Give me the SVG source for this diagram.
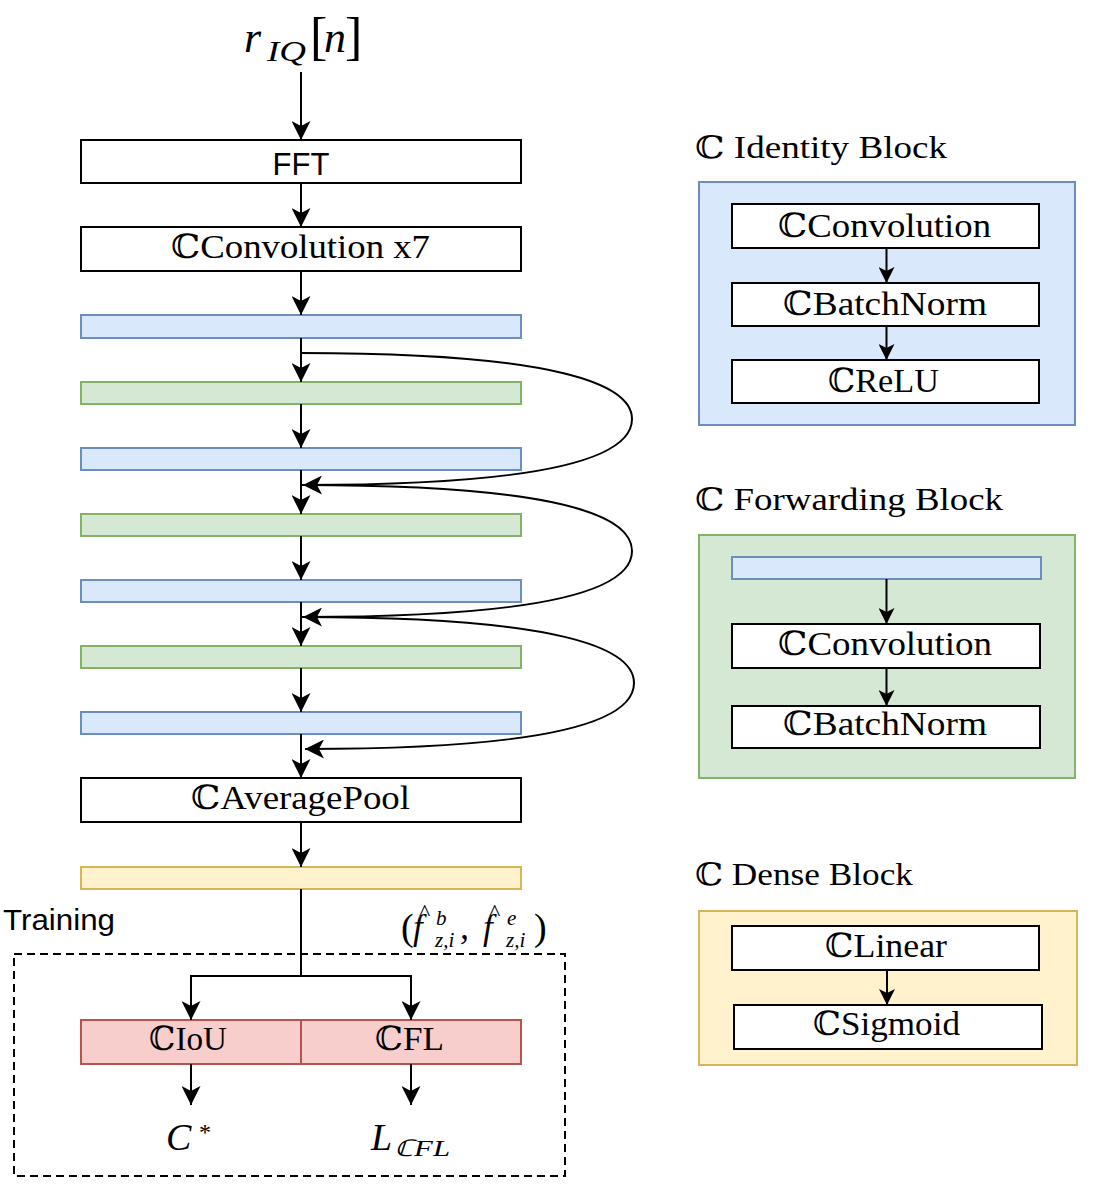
<svg xmlns="http://www.w3.org/2000/svg" width="1093" height="1185" viewBox="0 0 1093 1185">
<defs>
<style>
.box{fill:#ffffff;stroke:#000000;stroke-width:2}
.blue{fill:#dae8fc;stroke:#6c8ebf;stroke-width:2}
.green{fill:#d5e8d4;stroke:#82b366;stroke-width:2}
.yellow{fill:#fff2cc;stroke:#d6b656;stroke-width:2}
.red{fill:#f8cecc;stroke:#b85450;stroke-width:2}
.edge{fill:none;stroke:#000000;stroke-width:2}
.serif{font-family:"Liberation Serif","DejaVu Serif",serif;fill:#000000}
.it{font-style:italic}
.up{font-style:normal}
.sans{font-family:"Liberation Sans","DejaVu Sans",sans-serif;fill:#000000}
.lbl{font-size:33px}
.title{font-size:31px}
</style>
<marker id="arr" markerUnits="userSpaceOnUse" markerWidth="19" markerHeight="19" viewBox="0 0 19 19" refX="19" refY="9.5" orient="auto">
<path d="M0,0 L19,9.5 L0,19 L5,9.5 Z" fill="#000000"/>
</marker>
<marker id="arrs" markerUnits="userSpaceOnUse" markerWidth="16" markerHeight="16" viewBox="0 0 16 16" refX="16" refY="8" orient="auto">
<path d="M0,0 L16,8 L0,16 L4,8 Z" fill="#000000"/>
</marker>
</defs>
<rect width="1093" height="1185" fill="#ffffff"/>

<g id="input-label">
<text class="serif"><tspan class="it" x="244" y="52" font-size="44">r</tspan><tspan class="it" x="267" y="61" font-size="30" textLength="39" lengthAdjust="spacingAndGlyphs">IQ</tspan><tspan class="up" x="310" y="54" font-size="52">[</tspan><tspan class="it" x="324" y="52" font-size="44">n</tspan><tspan class="up" x="345" y="54" font-size="52">]</tspan></text>
</g>

<g id="fft"><rect class="box" x="81" y="140" width="440" height="43"/><text class="sans" x="301" y="175" font-size="31" text-anchor="middle">FFT</text></g>
<g id="conv7"><rect class="box" x="81" y="227" width="440" height="44"/><text class="serif lbl" x="171" y="258" textLength="259" lengthAdjust="spacingAndGlyphs">ℂConvolution x7</text></g>
<g id="id1"><rect class="blue" x="81" y="315" width="440" height="23"/></g>
<g id="fw1"><rect class="green" x="81" y="382" width="440" height="22"/></g>
<g id="id2"><rect class="blue" x="81" y="448" width="440" height="22"/></g>
<g id="fw2"><rect class="green" x="81" y="514" width="440" height="22"/></g>
<g id="id3"><rect class="blue" x="81" y="580" width="440" height="22"/></g>
<g id="fw3"><rect class="green" x="81" y="646" width="440" height="22"/></g>
<g id="id4"><rect class="blue" x="81" y="712" width="440" height="22"/></g>
<g id="avgpool"><rect class="box" x="81" y="778" width="440" height="44"/><text class="serif lbl" x="191" y="809" textLength="219" lengthAdjust="spacingAndGlyphs">ℂAveragePool</text></g>
<g id="dense"><rect class="yellow" x="81" y="867" width="440" height="22"/></g>

<g id="training">
<rect x="14" y="954" width="551" height="222" fill="none" stroke="#000000" stroke-width="2" stroke-dasharray="8,5"/>
<text class="sans" x="3" y="930" font-size="29" textLength="112" lengthAdjust="spacingAndGlyphs">Training</text>
</g>
<g id="ciou"><rect class="red" x="81" y="1020" width="220" height="44"/><text class="serif lbl" x="149" y="1050" textLength="78" lengthAdjust="spacingAndGlyphs">ℂIoU</text></g>
<g id="cfl"><rect class="red" x="301" y="1020" width="220" height="44"/><text class="serif lbl" x="375" y="1050" textLength="69" lengthAdjust="spacingAndGlyphs">ℂFL</text></g>

<g id="f-label">
<text class="serif"><tspan class="up" x="401" y="940" font-size="38">(</tspan><tspan class="it" x="413" y="939" font-size="35">f</tspan><tspan class="up" x="419" y="920" font-size="24">^</tspan><tspan class="it" x="436" y="925" font-size="21">b</tspan><tspan class="it" x="435" y="947" font-size="21">z,i</tspan><tspan class="it" x="460" y="939" font-size="36">,</tspan><tspan class="it" x="483" y="939" font-size="35">f</tspan><tspan class="up" x="489" y="920" font-size="24">^</tspan><tspan class="it" x="507" y="925" font-size="21">e</tspan><tspan class="it" x="506" y="947" font-size="21">z,i</tspan><tspan class="up" x="534" y="940" font-size="38">)</tspan></text>
</g>
<g id="cstar">
<text class="serif"><tspan class="it" x="166" y="1150" font-size="38">C</tspan><tspan class="up" x="199" y="1140" font-size="24">*</tspan></text>
</g>
<g id="lcfl">
<text class="serif"><tspan class="it" x="371" y="1150" font-size="38">L</tspan><tspan class="it" x="394" y="1156" font-size="23" textLength="56" lengthAdjust="spacingAndGlyphs">ℂFL</tspan></text>
</g>

<g id="identity-block">
<text class="serif title" x="695" y="158" textLength="252" lengthAdjust="spacingAndGlyphs">ℂ Identity Block</text>
<rect class="blue" x="699" y="182" width="376" height="243"/>
<rect class="box" x="732" y="204" width="307" height="44"/>
<text class="serif lbl" x="778" y="237" textLength="213" lengthAdjust="spacingAndGlyphs">ℂConvolution</text>
<rect class="box" x="732" y="283" width="307" height="43"/>
<text class="serif lbl" x="783" y="315" textLength="204" lengthAdjust="spacingAndGlyphs">ℂBatchNorm</text>
<rect class="box" x="732" y="360" width="307" height="43"/>
<text class="serif lbl" x="828" y="392" textLength="111" lengthAdjust="spacingAndGlyphs">ℂReLU</text>
</g>

<g id="forwarding-block">
<text class="serif title" x="695" y="510" textLength="308" lengthAdjust="spacingAndGlyphs">ℂ Forwarding Block</text>
<rect class="green" x="699" y="535" width="376" height="243"/>
<rect class="blue" x="732" y="557" width="309" height="22"/>
<rect class="box" x="732" y="624" width="308" height="44"/>
<text class="serif lbl" x="778" y="655" textLength="214" lengthAdjust="spacingAndGlyphs">ℂConvolution</text>
<rect class="box" x="732" y="706" width="308" height="42"/>
<text class="serif lbl" x="783" y="735" textLength="204" lengthAdjust="spacingAndGlyphs">ℂBatchNorm</text>
</g>

<g id="dense-block">
<text class="serif title" x="695" y="885" textLength="218" lengthAdjust="spacingAndGlyphs">ℂ Dense Block</text>
<rect class="yellow" x="699" y="911" width="378" height="154"/>
<rect class="box" x="732" y="926" width="307" height="44"/>
<text class="serif lbl" x="825" y="957" textLength="122" lengthAdjust="spacingAndGlyphs">ℂLinear</text>
<rect class="box" x="734" y="1005" width="308" height="44"/>
<text class="serif lbl" x="813" y="1035" textLength="147" lengthAdjust="spacingAndGlyphs">ℂSigmoid</text>
</g>

<g id="connectors">
<path class="edge" marker-end="url(#arr)" d="M301,72 L301,140"/>
<path class="edge" marker-end="url(#arr)" d="M301,183 L301,227"/>
<path class="edge" marker-end="url(#arr)" d="M301,271 L301,315"/>
<path class="edge" marker-end="url(#arr)" d="M301,338 L301,382"/>
<path class="edge" marker-end="url(#arr)" d="M301,404 L301,448"/>
<path class="edge" marker-end="url(#arr)" d="M301,470 L301,514"/>
<path class="edge" marker-end="url(#arr)" d="M301,536 L301,580"/>
<path class="edge" marker-end="url(#arr)" d="M301,602 L301,646"/>
<path class="edge" marker-end="url(#arr)" d="M301,668 L301,712"/>
<path class="edge" marker-end="url(#arr)" d="M301,734 L301,778"/>
<path class="edge" marker-end="url(#arr)" d="M301,822 L301,867"/>
<path class="edge" d="M301,889 L301,976"/>
<path class="edge" marker-end="url(#arr)" d="M301,976 L191,976 L191,1020"/>
<path class="edge" marker-end="url(#arr)" d="M301,976 L411,976 L411,1020"/>
<path class="edge" marker-end="url(#arr)" d="M191,1064 L191,1105"/>
<path class="edge" marker-end="url(#arr)" d="M411,1064 L411,1105"/>
<path class="edge" marker-end="url(#arr)" d="M301,353 C560,353 632,385 632,419 C632,455 560,485 303,485"/>
<path class="edge" marker-end="url(#arr)" d="M301,485 C560,485 632,516 632,551 C632,587 560,617 303,617"/>
<path class="edge" marker-end="url(#arr)" d="M301,617 C560,617 634,648 634,683 C634,719 560,749 305,749"/>
<path class="edge" marker-end="url(#arrs)" d="M886.5,248 L886.5,283"/>
<path class="edge" marker-end="url(#arrs)" d="M886.5,326 L886.5,360"/>
<path class="edge" marker-end="url(#arrs)" d="M886.5,579 L886.5,624"/>
<path class="edge" marker-end="url(#arrs)" d="M886.5,668 L886.5,706"/>
<path class="edge" marker-end="url(#arrs)" d="M887,970 L887,1005"/>
</g>
</svg>
